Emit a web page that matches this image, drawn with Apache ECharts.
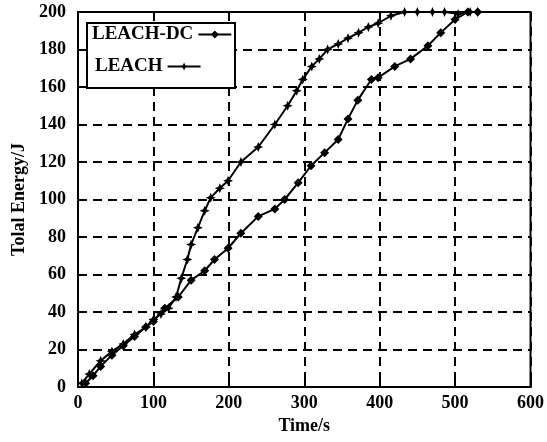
<!DOCTYPE html>
<html>
<head>
<meta charset="utf-8">
<script src="https://cdn.jsdelivr.net/npm/echarts@6/dist/echarts.min.js"></script>
<style>
    html, body { margin: 0; padding: 0; background: #fff; }
    #chart { width: 547px; height: 442px; }
</style>
</head>
<body>
<div id="chart"></div>
<script>
    // 读图估计的数据
    var xTicks = [0, 100, 200, 300, 400, 500, 600];
    var yTicks = [0, 20, 40, 60, 80, 100, 120, 140, 160, 180, 200];

    var leachDcTime = [10, 20, 30, 45, 60, 75, 90, 100, 115, 133, 150, 168, 181, 199, 216, 239, 261, 274, 292, 309, 327, 345, 358, 371, 389, 398, 420, 441, 464, 481, 500, 517, 530];
    var leachDcEnergy = [2, 6, 11, 17, 22, 27, 32, 35, 42, 48, 57, 62, 68, 74, 82, 91, 95, 100, 109, 118, 125, 132, 143, 153, 164, 165, 171, 175, 182, 189, 196, 200, 200];

    var leachTime = [5, 15, 30, 45, 60, 75, 90, 100, 110, 120, 130, 137, 145, 150, 159, 168, 176, 188, 199, 216, 239, 261, 278, 290, 298, 310, 320, 331, 345, 358, 372, 385, 398, 415, 433, 450, 470, 486, 504, 520, 530];
    var leachEnergy = [2, 7, 14, 19, 23, 28, 32, 36, 39, 42, 48, 58, 68, 76, 85, 94, 101, 106, 110, 120, 128, 140, 150, 158, 164, 171, 175, 180, 183, 186, 189, 192, 194, 198, 200, 200, 200, 200, 199, 200, 200];

    function pairs(xs, ys) {
        var out = [];
        for (var i = 0; i < xs.length; i++) out.push([xs[i], ys[i]]);
        return out;
    }

    var font = 'Liberation Serif';
    var txt = { fontFamily: font, fontWeight: 'bold', fontSize: 18, color: '#000' };
    var dash = { color: '#000', width: 2, type: [9, 6] };
    var starPath = 'path://M0,-10 L3,-3 L10,0 L3,3 L0,10 L-3,3 L-10,0 L-3,-3 Z';

    // 图例：两个单项图例 + 外框
    function legendItem(name, left, top) {
        return {
            left: left, top: top, z: 10,
            align: 'right',
            itemWidth: 33, itemHeight: 10,
            padding: 0,
            textStyle: { fontFamily: font, fontWeight: 'bold', fontSize: 19, color: '#000' },
            data: [name]
        };
    }

    var chart = echarts.init(document.getElementById('chart'));
    chart.setOption({
        backgroundColor: '#fff',
        animation: false,
        grid: { left: 78, right: 13, top: 12, bottom: 55, show: true, borderColor: '#000', borderWidth: 2 },
        graphic: [{
            type: 'rect', left: 86, top: 22, z: 3,
            shape: { width: 148, height: 65 },
            style: { fill: '#fff', stroke: '#000', lineWidth: 2 }
        }],
        legend: [
            legendItem('LEACH-DC', 92, 25),
            legendItem('LEACH', 95, 57)
        ],
        xAxis: {
            type: 'value', min: 0, max: 600, interval: 100,
            name: 'Time/s', nameLocation: 'middle', nameGap: 29,
            nameTextStyle: txt,
            axisLine: { lineStyle: { color: '#000', width: 2 } },
            axisTick: { inside: true, length: 7, lineStyle: { color: '#000', width: 2 } },
            axisLabel: Object.assign({ margin: 7 }, txt),
            splitLine: { lineStyle: dash }
        },
        yAxis: {
            type: 'value', min: 0, max: 200, interval: 20,
            name: 'Tolal Energy/J', nameLocation: 'middle', nameGap: 44, nameRotate: 90,
            nameTextStyle: txt,
            axisLine: { show: true, lineStyle: { color: '#000', width: 2 } },
            axisTick: { show: true, inside: true, length: 7, lineStyle: { color: '#000', width: 2 } },
            axisLabel: Object.assign({ margin: 12 }, txt),
            splitLine: { lineStyle: dash }
        },
        series: [
            {
                name: 'LEACH-DC', type: 'line',
                data: pairs(leachDcTime, leachDcEnergy),
                symbol: 'diamond', symbolSize: 9,
                lineStyle: { color: '#000', width: 2 },
                itemStyle: { color: '#000' }
            },
            {
                name: 'LEACH', type: 'line',
                data: pairs(leachTime, leachEnergy),
                symbol: starPath, symbolSize: 10,
                lineStyle: { color: '#000', width: 2 },
                itemStyle: { color: '#000' }
            }
        ]
    });
</script>
</body>
</html>
